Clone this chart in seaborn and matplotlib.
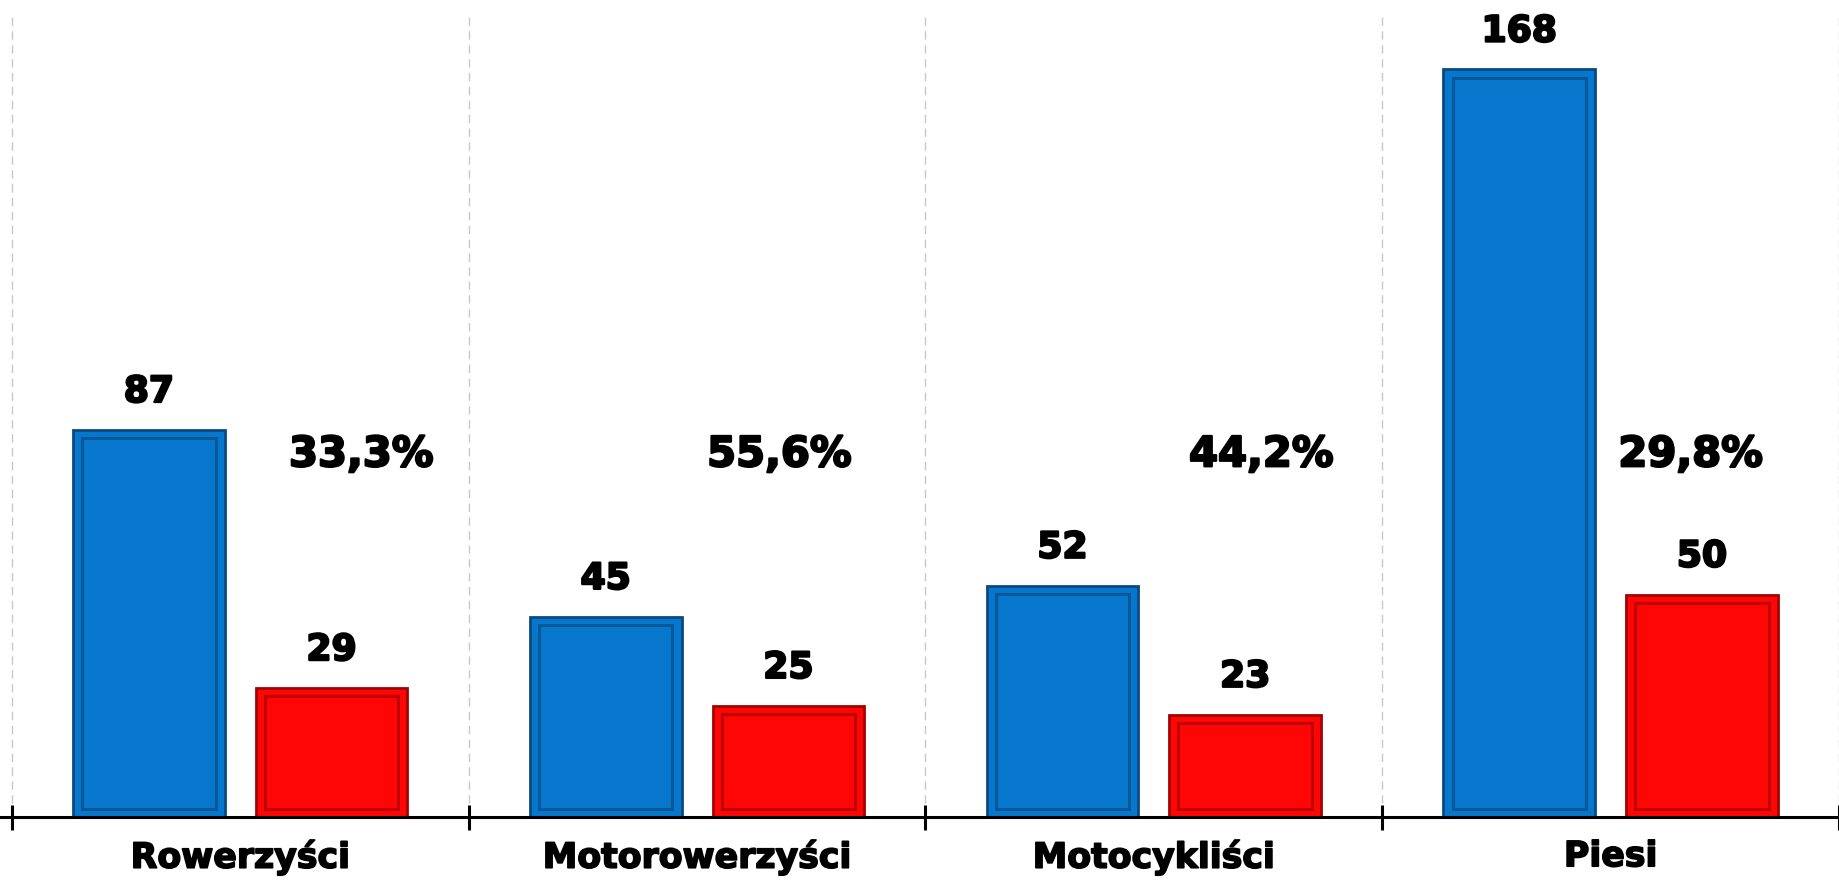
import numpy as np
import pandas as pd
import seaborn as sns
import matplotlib.pyplot as plt
import matplotlib.patheffects as pe
from matplotlib.patches import Rectangle

# ====== Dane ======
CATEGORIES = ["Rowerzyści", "Motorowerzyści", "Motocykliści", "Piesi"]
SERIES = ["wszyscy", "zabici"]
VALUES_ALL = [87, 45, 52, 168]
VALUES_RED = [29, 25, 23, 50]
PERCENT_LABELS = ["33,3%", "55,6%", "44,2%", "29,8%"]

# ====== Styl ======
BLUE = "#0677CD"
BLUE_DARK = "#0A4A80"
RED = "#FF0606"
RED_DARK = "#A30000"
PCT_DX = [0.265, 0.18, 0.235, 0.175]   # przesunięcie etykiet % względem środka kategorii
PCT_Y = 81.5
HEAVY = [pe.withStroke(linewidth=1.6, foreground="black")]

df = pd.DataFrame({
    "kategoria": CATEGORIES * 2,
    "seria": [SERIES[0]] * 4 + [SERIES[1]] * 4,
    "liczba": VALUES_ALL + VALUES_RED,
})

sns.set_theme(style="white")
plt.rcParams["font.family"] = ["DejaVu Sans"]

fig = plt.figure(figsize=(18.39, 8.81), dpi=100)
ax = fig.add_axes([0, 64 / 881, 1, (817 - 15) / 881])

sns.barplot(data=df, x="kategoria", y="liczba", hue="seria",
            palette=[BLUE, RED], width=0.8, gap=0.17, legend=False,
            edgecolor="none", saturation=1, ax=ax)

ax.set_xlim(-0.526, 3.489)
ax.set_ylim(0, (817 - 15) / 4.45)

# obramowanie "wypukłe" słupków
for cont, dark in zip(ax.containers, [BLUE_DARK, RED_DARK]):
    for p in cont.patches:
        x0, y0, w, h = p.get_x(), p.get_y(), p.get_width(), p.get_height()
        p.set_edgecolor(dark)
        p.set_linewidth(2.0)
        inset_x = w * 0.06
        inset_y = 1.9
        ax.add_patch(Rectangle((x0 + inset_x, y0 + inset_y), w - 2 * inset_x,
                               h - 2 * inset_y, fill=False, edgecolor=dark,
                               linewidth=2.2, alpha=0.7, zorder=p.get_zorder() + 0.1))
    txts = ax.bar_label(cont, labels=[str(int(v)) for v in cont.datavalues], padding=15,
                        fontsize=26, fontweight="bold", color="black")
    for t in txts:
        t.set_path_effects(HEAVY)

for i, lab in enumerate(PERCENT_LABELS):
    ax.text(i + PCT_DX[i], PCT_Y, lab, ha="center", va="center",
            fontsize=30, fontweight="bold", color="black", path_effects=HEAVY)

# pionowe linie podziału kategorii
for xb in np.arange(-0.5, len(CATEGORIES), 1.0):
    ax.axvline(xb, color="#c8c8c8", lw=1.0, ls=(0, (6, 4)), zorder=0)

for s in ["top", "right", "left"]:
    ax.spines[s].set_visible(False)
ax.spines["bottom"].set_color("black")
ax.spines["bottom"].set_linewidth(2.2)

ax.set_xticks(np.arange(-0.5, len(CATEGORIES), 1.0))
ax.set_xticklabels([])
ax.set_xticks(range(len(CATEGORIES)), minor=True)
ax.set_xticklabels(CATEGORIES, minor=True, fontsize=25, fontweight="bold",
                   color="black")
for t in ax.get_xticklabels(minor=True):
    t.set_path_effects([pe.withStroke(linewidth=1.2, foreground="black")])
ax.tick_params(axis="x", which="major", direction="inout", length=18, width=2.2,
               color="black", bottom=True)
ax.tick_params(axis="x", which="minor", length=0, pad=16)
ax.set_yticks([])
ax.set_xlabel("")
ax.set_ylabel("")

fig.savefig("out.png", dpi=100)
